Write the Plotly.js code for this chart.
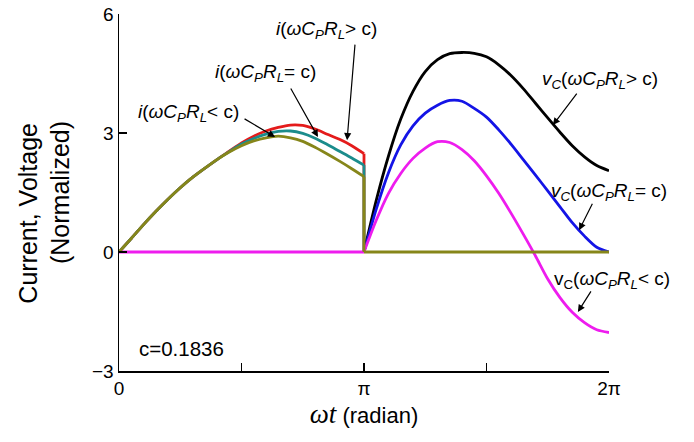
<!DOCTYPE html>
<html>
<head>
<meta charset="utf-8">
<script src="https://cdn.plot.ly/plotly-3.0.1.min.js"></script>
<style>html,body{margin:0;padding:0;background:#fff;}</style>
</head>
<body>
<div id="chart" style="width:694px;height:442px;"></div>
<script>
// x in units of pi
const xCurrent = [0,0.05,0.1,0.15,0.2,0.25,0.3,0.35,0.4,0.45,0.5,0.55,0.6,0.65,0.7,0.75,0.8,0.85,0.9,0.95,1.0];
const iGreater = [0,0.34,0.69,1.02,1.33,1.62,1.88,2.11,2.33,2.54,2.75,2.92,3.05,3.14,3.20,3.19,3.10,2.97,2.84,2.68,2.48];
const iEqual   = [0,0.34,0.69,1.02,1.33,1.62,1.88,2.11,2.33,2.53,2.72,2.86,2.97,3.04,3.05,2.99,2.87,2.71,2.54,2.37,2.19];
const iLess    = [0,0.34,0.69,1.02,1.33,1.62,1.88,2.11,2.33,2.52,2.68,2.80,2.88,2.92,2.88,2.79,2.64,2.47,2.29,2.10,1.90];

const xVoltage = [1.0,1.05,1.1,1.15,1.2,1.25,1.3,1.35,1.4,1.45,1.5,1.55,1.6,1.65,1.7,1.75,1.8,1.85,1.9,1.95,2.0];
const vGreater = [0,1.30,2.42,3.35,4.05,4.55,4.85,5.00,5.03,5.01,4.92,4.72,4.45,4.12,3.75,3.38,3.02,2.68,2.40,2.18,2.05];
const vEqual   = [0,1.08,2.00,2.70,3.18,3.50,3.70,3.82,3.80,3.62,3.40,3.08,2.72,2.33,1.94,1.54,1.14,0.74,0.40,0.12,0];
const vLess    = [0,0.80,1.48,1.98,2.36,2.62,2.78,2.76,2.58,2.30,1.92,1.48,0.98,0.45,-0.10,-0.68,-1.15,-1.52,-1.78,-1.96,-2.03];

const xZeroBefore = [0,1];
const xZeroAfter = [1,2];
const zeroLine = [0,0];

const tickVals = [0,0.5,1,1.5,2];
const tickText = ["0","","π","","2π"];
const yTickVals = [-3,0,3,6];

const cRed = "#e41b1b", cTeal = "#1b8c8c", cOlive = "#86861a", cBlack = "#000000", cBlue = "#1414e6", cMag = "#ee1cee";
const LW = 2.8;
const sp = {shape:"spline", smoothing:0.8};

function curve(x, y, color){ return {x:x, y:y, mode:"lines", line:Object.assign({color:color, width:LW}, sp), hoverinfo:"skip"}; }
function seg(x, y, color){ return {x:x, y:y, mode:"lines", line:{color:color, width:LW, shape:"linear"}, hoverinfo:"skip"}; }
const last = a => a[a.length-1];

const traces = [
  curve(xCurrent, iGreater, cRed),
  seg([1,1],[last(iGreater),0], cRed),
  curve(xCurrent, iEqual, cTeal),
  seg([1,1],[last(iEqual),0], cTeal),
  curve(xVoltage, vGreater, cBlack),
  curve(xVoltage, vEqual, cBlue),
  seg(xZeroBefore, zeroLine, cMag),
  curve(xVoltage, vLess, cMag),
  curve(xCurrent, iLess, cOlive),
  seg([1,1],[last(iLess),0], cOlive),
  seg(xZeroAfter, zeroLine, cOlive)
];

const F = "Liberation Sans, Arial, sans-serif";
const annFont = {family:F, size:19, color:"#000"};
function label(text, x, y, size){ return {xref:"paper", yref:"paper", x:x, y:y, xanchor:"center", yanchor:"middle", text:text, showarrow:false, font:Object.assign({}, annFont, size ? {size:size} : {})}; }
function arrow(x, y, ax, ay){ return {xref:"x", yref:"y", x:x, y:y, ax:ax, ay:ay, text:"", showarrow:true, arrowhead:2, arrowsize:1.2, arrowwidth:1.2, arrowcolor:"#000", standoff:0, startstandoff:0}; }

const wc = "<i>ωC<sub>P</sub>R<sub>L</sub></i>";
const annotations = [
  label("<i>i</i>(" + wc + "> c)", 0.4235, 0.955),
  arrow(0.931, 2.82, 8, -97),
  label("<i>i</i>(" + wc + "= c)", 0.298, 0.835),
  arrow(0.812, 2.90, -28, -50),
  label("<i>i</i>(" + wc + "< c)", 0.142, 0.723),
  arrow(0.637, 2.90, -32, -19),
  label("<i>v<sub>C</sub></i>(" + wc + "> c)", 0.982, 0.815),
  arrow(1.771, 3.20, 25, -33),
  label("<i>v<sub>C</sub></i>(" + wc + "= c)", 1.0, 0.501),
  arrow(1.878, 0.55, 14, -28),
  label("v<sub>C</sub>(" + wc + "< c)", 1.006, 0.255),
  arrow(1.873, -1.51, 14, -22),
  label("c=0.1836", 0.1276, 0.064, 20.5)
];

const pad = "\u00A0\u00A0\u00A0\u00A0\u00A0\u00A0";

const layout = {
  width:694, height:442,
  margin:{l:119, r:85, t:14, b:71},
  paper_bgcolor:"#fff", plot_bgcolor:"#fff",
  showlegend:false,
  font:{family:F, color:"#000"},
  xaxis:{
    range:[0,2], tickmode:"array", tickvals:tickVals, ticktext:tickText,
    ticks:"inside", ticklen:8, tickwidth:1.3, tickcolor:"#000",
    showline:true, linecolor:"#000", linewidth:1.5,
    showgrid:false, zeroline:false,
    tickfont:{family:F, size:19, color:"#000"},
    title:{text:"<span style='font-family:Liberation Serif, Times New Roman, serif;font-size:27px'><i>ωt</i></span> (radian)", font:{family:F, size:22, color:"#000"}, standoff:8}
  },
  yaxis:{
    range:[-3,6], tickmode:"array", tickvals:yTickVals,
    ticks:"inside", ticklen:8, tickwidth:1.3, tickcolor:"#000",
    showline:true, linecolor:"#000", linewidth:1.5,
    showgrid:false, zeroline:false,
    tickfont:{family:F, size:19, color:"#000"},
    title:{text:"Current, Voltage" + pad + "<br>(Normalized)" + pad, font:{family:F, size:25, color:"#000"}, standoff:15}
  },
  annotations:annotations
};

Plotly.newPlot("chart", traces, layout, {staticPlot:true, displayModeBar:false});
</script>
</body>
</html>
